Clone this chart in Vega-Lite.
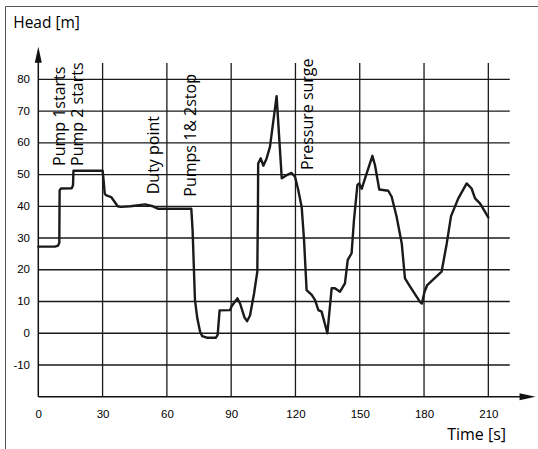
{
  "$schema": "https://vega.github.io/schema/vega-lite/v6.json",
  "width": 533,
  "height": 443,
  "autosize": {"type": "none"},
  "padding": {"left": 5, "top": 6, "right": 0, "bottom": 0},
  "background": "white",
  "config": {"view": {"stroke": null}},
  "datasets": {
    "hgrid": [{"v": -10}, {"v": 0}, {"v": 10}, {"v": 20}, {"v": 30}, {"v": 40}, {"v": 50}, {"v": 60}, {"v": 70}, {"v": 80}],
    "vgrid": [{"t": 30}, {"t": 60}, {"t": 90}, {"t": 120}, {"t": 150}, {"t": 180}, {"t": 210}],
    "axes": [{"t": 0, "t2": 0, "v": -20, "v2": 88}, {"t": 0, "t2": 228, "v": -20, "v2": -20}],
    "arrows": [{"t": 0, "v": 87.7, "dir": "up"}, {"t": 228.3, "v": -20, "dir": "right"}],
    "curve": [
      {"t": 0, "v": 27.3}, {"t": 7.8, "v": 27.3}, {"t": 9.2, "v": 27.6}, {"t": 9.8, "v": 28.5},
      {"t": 9.95, "v": 45.0}, {"t": 10.6, "v": 45.6}, {"t": 15.6, "v": 45.7}, {"t": 16.2, "v": 46.6},
      {"t": 16.4, "v": 51.2}, {"t": 30.0, "v": 51.2}, {"t": 30.5, "v": 48.0}, {"t": 31.0, "v": 44.0},
      {"t": 31.8, "v": 43.4}, {"t": 34.0, "v": 42.9}, {"t": 35.5, "v": 41.5}, {"t": 37.0, "v": 40.0},
      {"t": 38.5, "v": 39.8}, {"t": 43.0, "v": 40.0}, {"t": 49.8, "v": 40.6}, {"t": 53.0, "v": 40.1},
      {"t": 56.0, "v": 39.2}, {"t": 71.4, "v": 39.2}, {"t": 72.0, "v": 32.5}, {"t": 73.1, "v": 10.5},
      {"t": 74.2, "v": 4.7}, {"t": 75.5, "v": 0.5}, {"t": 76.5, "v": -0.9}, {"t": 78.6, "v": -1.4},
      {"t": 82.9, "v": -1.4}, {"t": 83.7, "v": -0.5}, {"t": 84.6, "v": 7.2}, {"t": 89.5, "v": 7.3},
      {"t": 90.2, "v": 8.5}, {"t": 92.9, "v": 11.0}, {"t": 94.2, "v": 9.3}, {"t": 96.2, "v": 5.0},
      {"t": 97.4, "v": 3.8}, {"t": 98.8, "v": 5.6}, {"t": 100.7, "v": 12.6}, {"t": 102.2, "v": 19.4},
      {"t": 102.5, "v": 40.0}, {"t": 102.6, "v": 53.5}, {"t": 103.8, "v": 55.1}, {"t": 105.0, "v": 52.8},
      {"t": 106.5, "v": 55.0}, {"t": 108.1, "v": 58.7}, {"t": 111.2, "v": 74.7}, {"t": 113.6, "v": 48.8},
      {"t": 115.9, "v": 49.8}, {"t": 118.2, "v": 50.5}, {"t": 119.8, "v": 49.3}, {"t": 121.3, "v": 45.1},
      {"t": 122.9, "v": 39.8}, {"t": 124.0, "v": 29.4}, {"t": 125.2, "v": 13.6}, {"t": 127.6, "v": 12.1},
      {"t": 129.1, "v": 10.5}, {"t": 130.7, "v": 7.3}, {"t": 132.2, "v": 6.8}, {"t": 134.9, "v": 0.0},
      {"t": 136.9, "v": 14.2}, {"t": 138.4, "v": 14.2}, {"t": 140.8, "v": 13.1}, {"t": 143.1, "v": 15.7},
      {"t": 144.4, "v": 23.1}, {"t": 146.2, "v": 25.2}, {"t": 147.3, "v": 35.6}, {"t": 148.9, "v": 46.7},
      {"t": 149.7, "v": 47.2}, {"t": 150.9, "v": 45.5}, {"t": 153.2, "v": 50.3}, {"t": 155.9, "v": 55.9},
      {"t": 157.1, "v": 53.0}, {"t": 159.1, "v": 45.3}, {"t": 163.3, "v": 44.9}, {"t": 164.9, "v": 43.0},
      {"t": 167.2, "v": 36.7}, {"t": 169.6, "v": 28.3}, {"t": 171.1, "v": 17.3}, {"t": 173.5, "v": 14.7},
      {"t": 178.2, "v": 9.8}, {"t": 179.0, "v": 9.4}, {"t": 180.2, "v": 13.0}, {"t": 181.5, "v": 15.2},
      {"t": 188.2, "v": 19.4}, {"t": 190.6, "v": 28.3}, {"t": 192.6, "v": 36.9}, {"t": 196.0, "v": 42.5},
      {"t": 199.9, "v": 47.2}, {"t": 202.2, "v": 45.6}, {"t": 203.8, "v": 42.5}, {"t": 206.1, "v": 40.9},
      {"t": 210.0, "v": 36.5}
    ],
    "notes": [
      {"t": 12.69, "v": 52.69, "label": "Pump 1starts"},
      {"t": 21.09, "v": 52.69, "label": "Pump 2 starts"},
      {"t": 56.19, "v": 43.78, "label": "Duty point"},
      {"t": 73.36, "v": 43.02, "label": "Pumps 1& 2stop"},
      {"t": 128.2, "v": 51.43, "label": "Pressure surge"}
    ]
  },
  "layer": [
    {
      "data": {"name": "hgrid"},
      "mark": {"type": "rule", "color": "#1a1a1a", "strokeWidth": 1.3},
      "encoding": {
        "y": {"field": "v", "type": "quantitative",
              "scale": {"domain": [-36.46, 103.09], "nice": false, "zero": false},
              "axis": {"orient": "left", "title": "Head [m]", "values": [-10, 0, 10, 20, 30, 40, 50, 60, 70, 80],
                       "labelExpr": "datum.value < 0 ? '-' + abs(datum.value) : datum.label",
                       "domain": true, "domainColor": "#555555", "domainWidth": 1,
                       "ticks": false, "tickSize": 0, "grid": false,
                       "labelPadding": -24.5, "labelAlign": "right", "labelBaseline": "middle",
                       "labelFont": "Liberation Sans", "labelFontSize": 11.5, "labelColor": "#000000",
                       "labelOverlap": false, "labelFlush": false,
                       "titleAngle": 0, "titleX": 7.7, "titleY": 21.4, "titleAlign": "left", "titleBaseline": "alphabetic",
                       "titleFont": "Open Sans", "titleFontSize": 15.5, "titleFontWeight": "normal", "titleColor": "#000000"}},
        "x": {"datum": 0, "type": "quantitative",
              "scale": {"domain": [-15.54, 233.18], "nice": false, "zero": false},
              "axis": {"orient": "top", "title": "Time [s]", "values": [0, 30, 60, 90, 120, 150, 180, 210],
                       "domain": true, "domainColor": "#555555", "domainWidth": 1,
                       "ticks": false, "tickSize": 0, "grid": false,
                       "labelPadding": -408.3, "labelBaseline": "middle", "labelAlign": "center",
                       "labelFont": "Liberation Sans", "labelFontSize": 11.5, "labelColor": "#000000",
                       "labelOverlap": false, "labelFlush": false,
                       "titleAngle": 0, "titleX": 441.7, "titleY": 433.5, "titleAlign": "left", "titleBaseline": "alphabetic",
                       "titleFont": "Open Sans", "titleFontSize": 16, "titleFontWeight": "normal", "titleColor": "#000000"}},
        "x2": {"datum": 220}
      }
    },
    {
      "data": {"name": "vgrid"},
      "mark": {"type": "rule", "color": "#1a1a1a", "strokeWidth": 1.3},
      "encoding": {
        "x": {"field": "t", "type": "quantitative"},
        "y": {"datum": -20, "type": "quantitative"},
        "y2": {"datum": 85.1}
      }
    },
    {
      "data": {"name": "axes"},
      "mark": {"type": "rule", "color": "#111111", "strokeWidth": 1.5},
      "encoding": {
        "x": {"field": "t", "type": "quantitative"},
        "x2": {"field": "t2"},
        "y": {"field": "v", "type": "quantitative"},
        "y2": {"field": "v2"}
      }
    },
    {
      "data": {"name": "arrows"},
      "mark": {"type": "point", "filled": true, "opacity": 1, "color": "#111111", "size": 256},
      "encoding": {
        "x": {"field": "t", "type": "quantitative"},
        "y": {"field": "v", "type": "quantitative"},
        "shape": {"field": "dir", "type": "nominal", "legend": null,
                  "scale": {"domain": ["up", "right"], "range": ["M0,-1L0.44,1L-0.44,1Z", "M1,0L-1,0.44L-1,-0.44Z"]}}
      }
    },
    {
      "data": {"name": "curve"},
      "mark": {"type": "line", "color": "#1a1a1a", "strokeWidth": 2.4, "strokeJoin": "round", "strokeCap": "round"},
      "encoding": {
        "x": {"field": "t", "type": "quantitative"},
        "y": {"field": "v", "type": "quantitative"}
      }
    },
    {
      "data": {"name": "notes"},
      "mark": {"type": "text", "angle": 270, "align": "left", "baseline": "alphabetic",
               "font": "Open Sans", "fontSize": 16, "color": "#000000"},
      "encoding": {
        "x": {"field": "t", "type": "quantitative"},
        "y": {"field": "v", "type": "quantitative"},
        "text": {"field": "label"}
      }
    }
  ]
}
